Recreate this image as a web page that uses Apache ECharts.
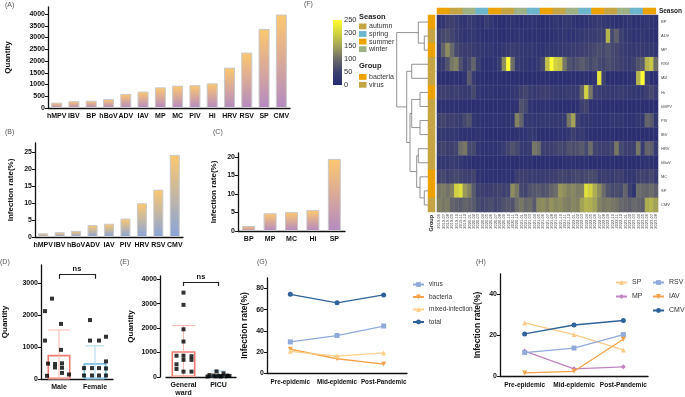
<!DOCTYPE html>
<html>
<head>
<meta charset="utf-8">
<script src="https://cdn.jsdelivr.net/npm/echarts@6/dist/echarts.min.js"></script>
<style>
html, body { margin: 0; padding: 0; background: #fff; }
#chart { width: 685px; height: 397px; }
</style>
</head>
<body>
<div id="chart"></div>
<script>
// (A) pathogen quantity
const aCats = ['hMPV', 'IBV', 'BP', 'hBoV', 'ADV', 'IAV', 'MP', 'MC', 'PIV', 'Hi', 'HRV', 'RSV', 'SP', 'CMV'];
const aVals = [230, 290, 310, 380, 600, 700, 880, 950, 970, 1050, 1720, 2360, 3370, 3980];

// (B) virus infection rate
const bCats = ['hMPV', 'IBV', 'hBoV', 'ADV', 'IAV', 'PIV', 'HRV', 'RSV', 'CMV'];
const bVals = [1.1, 1.4, 1.8, 3.5, 3.9, 5.4, 9.9, 13.9, 24.1];

// (C) bacteria infection rate
const cCats = ['BP', 'MP', 'MC', 'Hi', 'SP'];
const cVals = [1.35, 4.8, 5.1, 5.7, 19.5];

// (D) sex
const dCats = ['Male', 'Female'];
const dMean = [755, 496];
const dSD = [775, 538];
const dMalePts = [2510, 2120, 1720, 1200, 910, 480, 470, 490, 360, 350, 190, 100, 140];
const dMaleJit = [-7, -14, 2, -14, 2, -11, -4, 3, -4, 3, 3, -12, 10];
const dFemalePts = [1840, 1320, 1200, 1200, 550, 340, 340, 340, 330, 110, 110, 110, 110];
const dFemaleJit = [-5, 11, -5, 4, 11, -11, -3, 4, 11, -11, -3, 4, 11];

// (E) ward
const eCats = ['General\nward', 'PICU'];
const eMean = [1058, 70];
const eSD = [1042, 175];
const eWardPts = [3450, 2950, 1950, 1450, 870, 870, 850, 700, 700, 520, 330, 220, 220];
const eWardJit = [0, 0, 0, 0, -7, 0, 8, 0, 8, -7, -7, 0, 8];
const ePicuPts = [230, 150, 80, 60, 50, 40, 30, 40, 20, 60, 30, 20];
const ePicuJit = [-2, 5, -9, -5, 0, 4, 8, 11, -11, 9, -3, 2];

// (G) / (H) periods
const periods = ['Pre-epidemic', 'Mid-epidemic', 'Post-Pandemic'];
const gVirus = [29.5, 35.5, 44.5];
const gBacteria = [22.5, 13.5, 8.5];
const gMixed = [20.5, 16, 19];
const gTotal = [74.5, 66.5, 74];
const hSP = [26, 20.3, 12.8];
const hMP = [12.2, 3.5, 4.5];
const hRSV = [11.5, 13.7, 20.3];
const hIAV = [1.5, 2.3, 18];
const hCMV = [20.6, 25, 27.2];

// (F) heatmap
const monthLabels = [
  '2019-06', '2019-07', '2019-08', '2019-09', '2019-10', '2019-11', '2019-12',
  '2020-01', '2020-02', '2020-03', '2020-04', '2020-05', '2020-06', '2020-07', '2020-08', '2020-09', '2020-10', '2020-11', '2020-12',
  '2021-01', '2021-02', '2021-03', '2021-04', '2021-05', '2021-06', '2021-07', '2021-08', '2021-09', '2021-10', '2021-11', '2021-12',
  '2022-01', '2022-02', '2022-03', '2022-04', '2022-05', '2022-06', '2022-07', '2022-08', '2022-09', '2022-10', '2022-11', '2022-12',
  '2023-01', '2023-02', '2023-03', '2023-04', '2023-05', '2023-06', '2023-07', '2023-08'
];
const heatRows = ['BP', 'ADV', 'MP', 'RSV', 'IAV', 'Hi', 'hMPV', 'PIV', 'IBV', 'HRV', 'hBoV', 'MC', 'SP', 'CMV'];
const rowGroups = ['bacteria', 'virus', 'bacteria', 'virus', 'virus', 'bacteria', 'virus', 'virus', 'virus', 'virus', 'virus', 'bacteria', 'bacteria', 'virus'];
const heatBP = [20,25,45,50,40,25,20,35,30,20, 15,40,25,15,10,10,15,20,15,10, 15,20,20,15,10,15,20,25,20,30, 30,20,15,15,20,25,30,35,30,25, 20,15,15,20,25,15,15,20,25,20, 15];
const heatADV = [50,60,65,55,40,30,20,25,30,20, 15,15,15,15,10,10,15,15,20,20, 15,15,15,15,10,10,15,20,20,25, 20,20,25,30,35,40,40,45,50,170, 60,85,50,30,25,20,20,25,20,15, 15];
const heatMP = [40,90,130,95,60,50,40,45,35,30, 30,25,25,20,20,30,35,40,35,30, 25,30,25,20,20,25,25,30,30,35, 35,40,40,45,50,55,60,65,60,70, 60,55,45,35,30,30,35,35,30,30, 25];
const heatRSV = [30,40,70,110,120,70,40,60,90,40, 20,15,15,20,40,130,250,100,40,30, 25,20,20,30,60,180,250,200,190,110, 70,60,70,80,70,60,70,60,55,65, 60,55,50,40,35,50,70,80,170,190, 100];
const heatIAV = [10,10,10,15,15,10,20,80,40,15, 10,10,10,10,10,10,10,10,10,10, 10,10,10,10,10,10,10,10,10,10, 10,10,10,15,15,10,20,220,50,10, 10,10,10,10,15,20,170,250,40,10, 10];
const heatHi = [45,50,45,40,45,40,35,40,60,25, 20,20,20,15,15,20,20,25,30,50, 55,40,35,40,45,45,40,35,30,35, 40,35,40,90,200,110,45,40,35,35, 30,35,40,35,30,30,25,30,45,60, 40];
const heatHMPV = [15,15,15,15,15,15,10,10,10,10, 10,10,10,10,10,10,10,15,20,70, 60,20,15,15,15,15,15,10,10,10, 10,10,15,45,55,20,15,15,10,10, 10,10,10,10,10,10,10,10,10,10, 10];
const heatPIV = [50,55,45,50,45,40,60,70,25,20, 20,20,20,20,20,20,20,25,120,90, 30,30,25,25,30,30,30,30,30,40, 110,150,50,25,25,25,20,20,20,20, 25,25,25,20,20,20,25,30,90,80, 30];
const heatIBV = [30,30,25,30,25,20,15,15,15,20, 15,10,10,10,10,10,10,10,15,20, 20,30,30,15,10,10,10,15,20,20, 30,50,30,35,20,15,10,10,10,10, 10,10,10,10,10,10,10,10,10,10, 10];
const heatHRV = [50,55,45,50,55,100,110,60,60,25, 20,20,20,20,25,40,55,70,60,35, 30,40,110,100,50,45,50,55,60,55, 70,65,70,80,60,100,55,50,45,50, 55,110,60,50,45,50,110,40,90,85, 40];
const heatHBoV = [25,30,30,40,35,30,20,15,10,10, 10,10,10,10,10,10,10,10,10,15, 15,15,10,10,10,10,10,10,10,15, 15,15,15,15,15,10,10,10,10,10, 10,10,10,10,10,10,10,15,20,15, 10];
const heatMC = [55,60,50,55,60,55,50,45,55,20, 20,15,15,15,15,20,20,20,45,50, 45,40,40,35,40,40,45,50,55,55, 50,55,60,55,60,65,60,40,45,40, 35,50,50,30,25,30,50,55,50,60, 40];
const heatSP = [110,115,105,120,200,215,140,120,80,50, 45,40,45,50,55,50,55,130,110,60, 55,70,75,80,70,75,90,100,140,130, 120,125,115,120,215,200,160,130,100,70, 60,65,60,90,50,20,100,95,90,100, 85];
const heatCMV = [120,110,115,90,85,80,90,85,80,60, 55,60,65,55,60,70,75,70,100,110, 95,100,80,125,130,120,135,125,130,120, 115,125,120,150,170,165,150,120,110,115, 110,105,95,90,85,95,90,85,160,170, 150];
const heatTable = [heatBP, heatADV, heatMP, heatRSV, heatIAV, heatHi, heatHMPV, heatPIV, heatIBV, heatHRV, heatHBoV, heatMC, heatSP, heatCMV];
// dendrogram merges: [node a, node b, height]; leaves are 0..13, merges numbered from 14
const dendroMerges = [
  [1, 2, 3.7], [0, 14, 9.7], [3, 4, 16.3], [5, 6, 8], [7, 8, 8], [17, 18, 16.3],
  [9, 10, 9.7], [12, 13, 3.7], [11, 21, 8], [20, 22, 11.3], [19, 23, 18], [16, 24, 21.3], [15, 25, 31.3]
];

const seasonNames = ['autumn', 'spring', 'summer', 'winter'];
const seasonColors = ['#c4a443', '#6cb5cd', '#eca200', '#9db185'];
const groupNames = ['bacteria', 'virus'];
const groupColors = ['#eca200', '#c4a443'];
const heatColors = ['#262b72', '#3d406f', '#6c6c68', '#a3a356', '#d3d33f', '#ffff33'];

const FONT = 'Liberation Sans, Arial, sans-serif';
const chart = echarts.init(document.getElementById('chart'));

function seasonOf(label) {
  const m = +label.slice(5);
  if (m >= 3 && m <= 5) return 1;
  if (m >= 6 && m <= 8) return 2;
  if (m >= 9 && m <= 11) return 0;
  return 3;
}

const axisLine = { show: true, lineStyle: { color: '#111', width: 1.3 } };
const axisTick = { show: true, length: 3, lineStyle: { color: '#111', width: 1 } };

function yVal(gridIndex, max, interval, name, nameGap, extra) {
  return Object.assign({
    type: 'value', gridIndex, min: 0, max, interval,
    name, nameLocation: 'middle', nameGap,
    nameTextStyle: { fontSize: 8, fontWeight: 'bold', color: '#111', fontFamily: FONT },
    axisLine, axisTick,
    axisLabel: { fontSize: 7, fontWeight: 'bold', color: '#111', margin: 3, showMaxLabel: false, fontFamily: FONT,
                 formatter: v => String(v) },
    splitLine: { show: false }
  }, extra || {});
}
function catLabel(size) {
  return { fontSize: size, fontWeight: 'bold', color: '#111', margin: 4, interval: 0, fontFamily: FONT, lineHeight: 8 };
}
function xCat(gridIndex, data, size) {
  return { type: 'category', gridIndex, data, axisLine, axisTick: { show: false }, axisLabel: catLabel(size || 7) };
}
function grad(c1, c2) {
  return new echarts.graphic.LinearGradient(0, 0, 0, 1, [{ offset: 0, color: c1 }, { offset: 1, color: c2 }]);
}
function errRender(colors, capFrac) {
  return function (params, api) {
    const x = api.value(0);
    const lo = api.coord([x, api.value(1)]);
    const hi = api.coord([x, api.value(2)]);
    const half = api.size([1, 0])[0] * capFrac[x];
    const style = { stroke: colors[x], lineWidth: 1 };
    return {
      type: 'group', children: [
        { type: 'line', shape: { x1: lo[0], y1: lo[1], x2: hi[0], y2: hi[1] }, style },
        { type: 'line', shape: { x1: hi[0] - half, y1: hi[1], x2: hi[0] + half, y2: hi[1] }, style },
        { type: 'line', shape: { x1: lo[0] - half, y1: lo[1], x2: lo[0] + half, y2: lo[1] }, style }
      ]
    };
  };
}
function jitterPts(catIdx, vals, jit) {
  return vals.map((v, i) => ({ value: [catIdx, v], symbolOffset: [jit[i], 0] }));
}
function bracket(y1, y2) {
  return {
    silent: true, symbol: ['none', 'none'], animation: false,
    lineStyle: { color: '#222', width: 1.2, type: 'solid' },
    label: { show: false },
    data: [
      [{ coord: [0, y1], label: { show: true, formatter: 'ns', position: 'insideMiddleTop', distance: 1, fontSize: 7.5, fontWeight: 'bold', color: '#111' } }, { coord: [1, y1] }],
      [{ coord: [0, y1] }, { coord: [0, y2] }],
      [{ coord: [1, y1] }, { coord: [1, y2] }]
    ]
  };
}
function lineSeries(name, data, color, symbol, rotate) {
  return {
    type: 'line', name, data, symbol, symbolSize: 5, symbolRotate: rotate || 0,
    itemStyle: { color }, lineStyle: { color, width: 1.3 }
  };
}

// heatmap data
const heatData = [];
heatTable.forEach((row, r) => row.forEach((v, c) => heatData.push([c, r, Math.min(v, 250)])));
const seasonData = monthLabels.map((m, c) => [c, 0, seasonOf(m)]);
const groupData = rowGroups.map((g, r) => [0, r, groupNames.indexOf(g)]);

// dendrogram segments
const nodeY = heatRows.map((_, i) => i);
const nodeH = heatRows.map(() => 0);
const dendroSegs = [];
dendroMerges.forEach(([a, b, h]) => {
  dendroSegs.push({ coords: [[nodeH[a], nodeY[a]], [h, nodeY[a]], [h, nodeY[b]], [nodeH[b], nodeY[b]]] });
  nodeY.push((nodeY[a] + nodeY[b]) / 2);
  nodeH.push(h);
});

const grids = [
  { left: 48, top: 7, width: 242, height: 101 },    // A
  { left: 35, top: 143, width: 148, height: 94 },   // B
  { left: 238, top: 153, width: 107, height: 78 },  // C
  { left: 37, top: 265, width: 76, height: 114 },   // D
  { left: 166, top: 276, width: 70, height: 102 },  // E
  { left: 267, top: 278, width: 140, height: 95 },  // G
  { left: 500, top: 274, width: 148, height: 102 }, // H
  { left: 437, top: 15, width: 221, height: 197 },  // heatmap
  { left: 437, top: 8, width: 221, height: 6 },     // season strip
  { left: 428, top: 15, width: 7, height: 197 },    // group strip
  { left: 390, top: 15, width: 38, height: 197 },   // dendrogram
  { left: 333, top: 20, width: 9, height: 65 }      // colour bar
];

const xAxes = [
  xCat(0, aCats),
  xCat(1, bCats),
  xCat(2, cCats),
  xCat(3, dCats),
  xCat(4, eCats),
  xCat(5, periods, 6.3),
  xCat(6, periods, 6.5),
  { type: 'category', gridIndex: 7, data: monthLabels, axisLine: { show: false }, axisTick: { show: false },
    axisLabel: { rotate: 90, fontSize: 4, interval: 0, margin: 2, color: '#444', fontFamily: FONT } },
  { type: 'category', gridIndex: 8, data: monthLabels, show: false },
  { type: 'category', gridIndex: 9, data: ['Group'], axisLine: { show: false }, axisTick: { show: false },
    axisLabel: { rotate: 90, fontSize: 5.5, fontWeight: 'bold', margin: 3, color: '#222', fontFamily: FONT } },
  { type: 'value', gridIndex: 10, min: 0, max: 38, inverse: true, show: false },
  { type: 'category', gridIndex: 11, data: [''], show: false }
];
xAxes[5].axisLabel.margin = 5;
xAxes[6].axisLabel.margin = 5;

const gNameStyle = { nameTextStyle: { fontSize: 8.5, fontWeight: 'bold', color: '#111', fontFamily: FONT } };
const yAxes = [
  yVal(0, 4300, 500, 'Quantity', 36),
  yVal(1, 27.6, 5, 'Infection rate(%)', 20),
  yVal(2, 21.1, 5, 'Infection rate(%)', 20),
  yVal(3, 3560, 1000, 'Quantity', 32),
  yVal(4, 4130, 1000, 'Quantity', 25, { offset: 6 }),
  yVal(5, 90, 20, 'Infection rate(%)', 18, gNameStyle),
  yVal(6, 50, 20, 'Infection rate(%)', 18, gNameStyle),
  { type: 'category', gridIndex: 7, data: heatRows, inverse: true, position: 'right', axisLine: { show: false }, axisTick: { show: false },
    axisLabel: { fontSize: 4, margin: 3, color: '#444', fontFamily: FONT } },
  { type: 'category', gridIndex: 8, data: ['Season'], position: 'right', axisLine: { show: false }, axisTick: { show: false },
    axisLabel: { fontSize: 6.5, fontWeight: 'bold', margin: 3, color: '#222', fontFamily: FONT } },
  { type: 'category', gridIndex: 9, data: heatRows, inverse: true, show: false },
  { type: 'value', gridIndex: 10, min: -0.5, max: 13.5, inverse: true, show: false },
  { type: 'value', gridIndex: 11, min: 0, max: 250, interval: 50, position: 'right',
    axisLine: { show: false }, splitLine: { show: false },
    axisTick: { show: true, inside: true, length: 2, lineStyle: { color: '#fff', width: 1 } },
    axisLabel: { fontSize: 7.5, margin: 2, color: '#333', fontFamily: FONT } }
];

const dColors = ['#ef7a6f', '#79c0e1'];
const dErrColors = ['#f6b8b1', '#a9d6ec'];

function at(s, gi) { s.xAxisIndex = gi; s.yAxisIndex = gi; return s; }

const series = [
  // 0 A
  at({ type: 'bar', data: aVals, barWidth: 11,
       itemStyle: { color: grad('#fdc86f', '#b48ac2'), borderColor: '#c9c9c9', borderWidth: 1 } }, 0),
  // 1 B
  at({ type: 'bar', data: bVals, barWidth: 10,
       itemStyle: { color: grad('#fdc86f', '#88a4da'), borderColor: '#c9c9c9', borderWidth: 1 } }, 1),
  // 2 C
  at({ type: 'bar', data: cVals, barWidth: 13,
       itemStyle: { color: grad('#fdc86f', '#b48ac2'), borderColor: '#c9c9c9', borderWidth: 1 } }, 2),
  // 3 D bars
  at({ type: 'bar', barWidth: 23, z: 1,
       data: dMean.map((v, i) => ({ value: v, itemStyle: { borderColor: dColors[i] } })),
       itemStyle: { color: '#fff', borderWidth: 1.6 },
       markLine: bracket(3280, 3130) }, 3),
  // 4 D error bars
  at({ type: 'custom', z: 2, renderItem: errRender(dErrColors, [0.3, 0.26]),
       data: dMean.map((m, i) => [i, Math.max(0, m - dSD[i]), m + dSD[i]]) }, 3),
  // 5 D points
  at({ type: 'scatter', symbol: 'rect', symbolSize: 4, z: 3, itemStyle: { color: '#000' },
       data: jitterPts(0, dMalePts, dMaleJit).concat(jitterPts(1, dFemalePts, dFemaleJit)) }, 3),
  // 6 E bars
  at({ type: 'bar', barWidth: 24, z: 1,
       data: eMean.map((v, i) => ({ value: v, itemStyle: { borderColor: dColors[i] } })),
       itemStyle: { color: '#fff', borderWidth: 1.6 },
       markLine: bracket(3890, 3720) }, 4),
  // 7 E error bars
  at({ type: 'custom', z: 2, renderItem: errRender(dErrColors, [0.34, 0.2]),
       data: eMean.map((m, i) => [i, Math.max(0, m - eSD[i]), m + eSD[i]]) }, 4),
  // 8 E points
  at({ type: 'scatter', symbol: 'rect', symbolSize: 4, z: 3, itemStyle: { color: '#000' },
       data: jitterPts(0, eWardPts, eWardJit).concat(jitterPts(1, ePicuPts, ePicuJit)) }, 4),
  // 9-12 G
  at(lineSeries('virus', gVirus, '#91aadc', 'rect'), 5),
  at(lineSeries('bacteria', gBacteria, '#f5a24a', 'triangle', 180), 5),
  at(lineSeries('mixed-infection', gMixed, '#fdd08c', 'triangle'), 5),
  at(lineSeries('total', gTotal, '#2f6399', 'circle'), 5),
  // 13-17 H
  at(lineSeries('SP', hSP, '#fdcb88', 'triangle'), 6),
  at(lineSeries('MP', hMP, '#c283c4', 'diamond'), 6),
  at(lineSeries('RSV', hRSV, '#91aadc', 'rect'), 6),
  at(lineSeries('IAV', hIAV, '#f5a24a', 'triangle', 180), 6),
  at(lineSeries('CMV', hCMV, '#2f6399', 'circle'), 6),
  // 18 heatmap
  at({ type: 'heatmap', data: heatData, emphasis: { disabled: true },
       itemStyle: { borderColor: 'rgba(140,140,165,0.35)', borderWidth: 0.4 } }, 7),
  // 19 season strip
  at({ type: 'heatmap', data: seasonData, emphasis: { disabled: true } }, 8),
  // 20 group strip
  at({ type: 'heatmap', data: groupData, emphasis: { disabled: true } }, 9),
  // 21 dendrogram
  at({ type: 'lines', coordinateSystem: 'cartesian2d', polyline: true, silent: true, data: dendroSegs,
       lineStyle: { color: '#777', width: 0.8, opacity: 1 } }, 10),
  // 22 colour bar
  at({ type: 'bar', data: [250], barWidth: '100%', silent: true,
       itemStyle: { color: new echarts.graphic.LinearGradient(0, 1, 0, 0,
         heatColors.map((c, i) => ({ offset: i / (heatColors.length - 1), color: c }))) } }, 11)
];

const legendText = { fontSize: 6.5, color: '#333', fontFamily: FONT };
const legends = [
  { data: ['virus', 'bacteria', 'mixed-infection', 'total'], left: 412, top: 281, orient: 'vertical', padding: 0,
    itemWidth: 11, itemHeight: 6, itemGap: 5.5, textStyle: legendText },
  { data: ['SP', 'MP'], left: 615, top: 279, orient: 'vertical', padding: 0,
    itemWidth: 11, itemHeight: 6, itemGap: 7, textStyle: Object.assign({}, legendText, { fontSize: 7 }) },
  { data: ['RSV', 'IAV', 'CMV'], left: 652, top: 279, orient: 'vertical', padding: 0,
    itemWidth: 11, itemHeight: 6, itemGap: 7, textStyle: Object.assign({}, legendText, { fontSize: 7 }) }
];

function panelLabel(t, x, y) {
  return { type: 'text', left: x, top: y, style: { text: t, fontSize: 7, fill: '#555', fontFamily: FONT } };
}
const graphics = [
  panelLabel('(A)', 5, 2), panelLabel('(B)', 5, 129), panelLabel('(C)', 213, 129),
  panelLabel('(D)', 0, 259), panelLabel('(E)', 120, 259), panelLabel('(G)', 257, 259),
  panelLabel('(H)', 476, 259), panelLabel('(F)', 304, 1),
  { type: 'text', left: 359, top: 13, style: { text: 'Season', fontSize: 7.5, fontWeight: 'bold', fill: '#222', fontFamily: FONT } },
  { type: 'text', left: 359, top: 62, style: { text: 'Group', fontSize: 7.5, fontWeight: 'bold', fill: '#222', fontFamily: FONT } }
];
seasonNames.forEach((s, i) => {
  const y = 23.5 + i * 7.6;
  graphics.push({ type: 'rect', shape: { x: 359, y, width: 7.5, height: 5.8 }, style: { fill: seasonColors[i] } });
  graphics.push({ type: 'text', x: 369, y: y + 3, style: { text: s, fontSize: 7, fill: '#333', verticalAlign: 'middle', fontFamily: FONT } });
});
groupNames.forEach((g, i) => {
  const y = 74 + i * 7.9;
  graphics.push({ type: 'rect', shape: { x: 359, y, width: 7.5, height: 5.8 }, style: { fill: groupColors[i] } });
  graphics.push({ type: 'text', x: 369, y: y + 3, style: { text: g, fontSize: 7, fill: '#333', verticalAlign: 'middle', fontFamily: FONT } });
});

chart.setOption({
  animation: false,
  textStyle: { fontFamily: FONT },
  grid: grids,
  xAxis: xAxes,
  yAxis: yAxes,
  legend: legends,
  visualMap: [
    { type: 'continuous', min: 0, max: 250, seriesIndex: 18, dimension: 2, show: false, inRange: { color: heatColors } },
    { type: 'piecewise', seriesIndex: 19, dimension: 2, show: false,
      pieces: seasonNames.map((s, i) => ({ value: i, color: seasonColors[i] })) },
    { type: 'piecewise', seriesIndex: 20, dimension: 2, show: false,
      pieces: groupNames.map((g, i) => ({ value: i, color: groupColors[i] })) }
  ],
  graphic: graphics,
  series
});
</script>
</body>
</html>
